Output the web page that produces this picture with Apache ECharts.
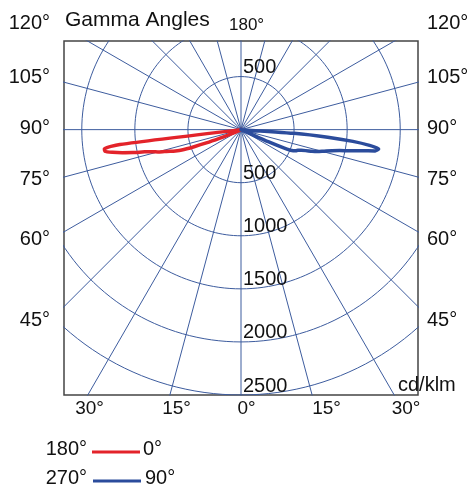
<html>
<head>
    <meta charset="utf-8" />
    <title>Gamma Angles</title>
    <script src="https://cdn.jsdelivr.net/npm/echarts@6/dist/echarts.min.js"></script>
    <style>
        body { margin: 0; background: #fff; }
        #chart { width: 473px; height: 488px; }
    </style>
</head>
<body>
<div id="chart"></div>
<script type="text/javascript">
    // gamma angles (deg from nadir) and intensities in cd/klm per C-plane half
    var gammas = [60, 61, 62, 63, 64, 65, 66, 67, 68, 69, 70, 71, 72, 73, 74, 75,
                  76, 77, 78, 79, 80, 81, 82, 83, 84, 85, 86, 87, 88, 89, 90];
    var c180 = [0, 0, 0, 0, 0, 0, 50, 120, 220, 350, 470, 590, 650, 700, 750, 810,
                860, 930, 1040, 1140, 1230, 1300, 1300, 1150, 0, 0, 0, 0, 0, 0, 0];
    var c0   = [0, 0, 0, 0, 0, 0, 0, 0, 0, 0, 0, 0, 0, 0, 0, 0,
                0, 0, 0, 0, 0, 0, 0, 0, 0, 0, 0, 0, 0, 0, 0];
    var c270 = [0, 0, 0, 0, 0, 0, 0, 0, 0, 0, 0, 0, 0, 0, 0, 0,
                0, 0, 0, 0, 0, 0, 0, 0, 0, 0, 0, 0, 0, 0, 0];
    var c90  = [0, 0, 0, 0, 0, 0, 280, 470, 530, 555, 570, 600, 640, 700, 750, 790,
                830, 880, 950, 1040, 1150, 1280, 1310, 1220, 1060, 820, 500, 0, 0, 0, 0];

    var rings = [500, 1000, 1500, 2000, 2500];
    var rayStep = 15;
    var sideLabels = ['120°', '105°', '90°', '75°', '60°', '45°'];
    var bottomLabels = ['30°', '15°', '0°', '15°', '30°'];

    var gridColor = '#3d5c9e';
    var redColor = '#e3232a';
    var blueColor = '#2b4c9c';
    var family = '"Liberation Sans", Arial, sans-serif';
    var font = '20px ' + family;

    function toXY(g, v, side) {
        var a = g * Math.PI / 180;
        return [side * v * Math.sin(a), -v * Math.cos(a)];
    }

    // curve: one half going out, other half coming back
    function planeCurve(leftVals, rightVals) {
        var pts = [];
        for (var i = 0; i < gammas.length; i++) pts.push(toXY(gammas[i], leftVals[i], -1));
        for (var j = gammas.length - 1; j >= 0; j--) pts.push(toXY(gammas[j], rightVals[j], 1));
        return pts;
    }

    var series = [];
    rings.forEach(function (r) {
        var pts = [];
        for (var a = 0; a <= 360; a += 2) {
            var t = a * Math.PI / 180;
            pts.push([r * Math.sin(t), r * Math.cos(t)]);
        }
        series.push({ type: 'line', data: pts, symbol: 'none', silent: true, clip: true, z: 1,
            lineStyle: { color: gridColor, width: 1 } });
    });
    for (var a = 0; a < 360; a += rayStep) {
        var t = a * Math.PI / 180;
        series.push({ type: 'line', data: [[0, 0], [4000 * Math.sin(t), 4000 * Math.cos(t)]],
            symbol: 'none', silent: true, clip: true, z: 1,
            lineStyle: { color: gridColor, width: 1 } });
    }

    series.push({ type: 'line', name: 'C0-C180', data: planeCurve(c180, c0), symbol: 'none', z: 3,
        smooth: 0.2,
        lineStyle: { color: redColor, width: 3.5, join: 'round', cap: 'round' } });
    series.push({ type: 'line', name: 'C90-C270', data: planeCurve(c270, c90), symbol: 'none', z: 4,
        smooth: 0.2,
        lineStyle: { color: blueColor, width: 3.5, join: 'round', cap: 'round' } });

    // ring value labels along the vertical axis
    var ringLabelData = [[0, rings[0]]].concat(rings.map(function (r) { return [0, -r]; }));
    series.push({ type: 'scatter', data: ringLabelData, symbolSize: 0, silent: true, z: 5,
        itemStyle: { opacity: 1 },
        label: { show: true, position: [2, 1], align: 'left', verticalAlign: 'bottom',
            fontSize: 20, fontFamily: family, color: '#111', opacity: 1,
            formatter: function (p) { return String(Math.abs(p.value[1])); } } });

    var graphic = [];
    function txt(s, x, y, align, f) {
        graphic.push({ type: 'text', x: x, y: y, silent: true,
            style: { text: s, font: f || font, fill: '#111', align: align, textAlign: align,
                verticalAlign: 'middle', textVerticalAlign: 'middle' } });
    }
    txt('Gamma Angles', 65, 20, 'left', '21px ' + family);
    txt('180°', 229, 25, 'left', '17px ' + family);
    var sideY = [23, 77, 128, 179, 239, 320];
    sideLabels.forEach(function (s, i) {
        txt(s, 50, sideY[i], 'right');
        txt(s, 427, sideY[i], 'left');
    });
    var bottomX = [89.5, 176.5, 246.5, 326.5, 406];
    bottomLabels.forEach(function (s, i) {
        txt(s, bottomX[i], 409, 'center', '19px ' + family);
    });
    txt('cd/klm', 398, 385, 'left');
    txt('180°', 87, 449.5, 'right');
    txt('0°', 143, 449.5, 'left');
    txt('270°', 87, 478, 'right');
    txt('90°', 145, 478, 'left');
    graphic.push({ type: 'line', shape: { x1: 92, y1: 452, x2: 140, y2: 452 },
        style: { stroke: redColor, lineWidth: 3 } });
    graphic.push({ type: 'line', shape: { x1: 93, y1: 481, x2: 141, y2: 481 },
        style: { stroke: blueColor, lineWidth: 3 } });

    var chart = echarts.init(document.getElementById('chart'));
    chart.setOption({
        animation: false,
        backgroundColor: '#fff',
        grid: { left: 64, top: 41, width: 354, height: 354, show: true,
            borderColor: '#444', borderWidth: 1.5, containLabel: false },
        xAxis: { type: 'value', min: -1667.5, max: 1667.5, show: false },
        yAxis: { type: 'value', min: -2500, max: 835, show: false },
        series: series,
        graphic: graphic
    });
</script>
</body>
</html>
